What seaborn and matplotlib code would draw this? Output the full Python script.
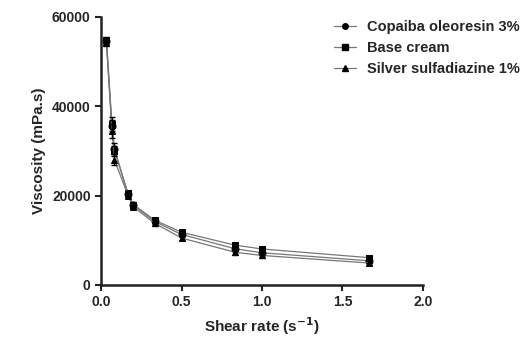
import matplotlib
matplotlib.use("Agg")
import matplotlib.pyplot as plt
import seaborn as sns
import pandas as pd
import numpy as np
from matplotlib.lines import Line2D

shear_rate = [0.033, 0.067, 0.083, 0.167, 0.2, 0.333, 0.5, 0.833, 1.0, 1.667]
copaiba = [54500, 35500, 30500, 20300, 17900, 14200, 11300, 8100, 7200, 5400]
base_cream = [54800, 36000, 30000, 20500, 18000, 14500, 11800, 8900, 8050, 6100]
silver = [54200, 34500, 28000, 20000, 17500, 13800, 10500, 7300, 6600, 4900]
copaiba_sd = [800, 1500, 1200, 600, 500, 500, 500, 500, 500, 400]
base_sd = [800, 1500, 1200, 600, 500, 500, 500, 500, 500, 400]
silver_sd = [800, 1500, 1200, 600, 500, 500, 500, 500, 500, 400]
series_names = ["Copaiba oleoresin 3%", "Base cream", "Silver sulfadiazine 1%"]
markers = ["o", "s", "^"]

sns.set_style("ticks")
plt.rcParams['font.family'] = ['Liberation Sans', 'DejaVu Sans']
plt.rcParams['font.weight'] = 'bold'

df = pd.DataFrame({
    "Shear rate": shear_rate * 3,
    "Viscosity": copaiba + base_cream + silver,
    "Series": sum([[n] * len(shear_rate) for n in series_names], []),
})

fig = plt.figure(figsize=(5.24, 3.38), dpi=100)
ax = fig.add_axes([0.193, 0.157, 0.614, 0.793])

sns.lineplot(data=df, x="Shear rate", y="Viscosity", hue="Series", style="Series",
             markers=dict(zip(series_names, markers)), dashes=False,
             palette=["#777777"] * 3, linewidth=0.9, markersize=5,
             markerfacecolor="black", markeredgecolor="black",
             legend=False, ax=ax)

for vals, sd in zip([copaiba, base_cream, silver], [copaiba_sd, base_sd, silver_sd]):
    ax.errorbar(shear_rate, vals, yerr=sd, fmt="none", ecolor="black",
                elinewidth=1.0, capsize=2, capthick=1.0)

ax.set_xlim(0, 2.0)
ax.set_ylim(0, 60000)
ax.set_xticks([0.0, 0.5, 1.0, 1.5, 2.0])
ax.set_xticklabels(["0.0", "0.5", "1.0", "1.5", "2.0"])
ax.set_yticks([0, 20000, 40000, 60000])
ax.set_yticklabels(["0", "20000", "40000", "60000"])
ax.tick_params(labelsize=10, width=1.5, length=4, color="#222222")
for lab in ax.get_xticklabels() + ax.get_yticklabels():
    lab.set_fontweight("bold")
for s in ["left", "bottom"]:
    ax.spines[s].set_linewidth(1.8)
    ax.spines[s].set_color("#222222")
sns.despine(ax=ax)

ax.set_xlabel("Shear rate (s$^{\\mathbf{-1}}$)", fontsize=11, fontweight="bold")
ax.set_ylabel("Viscosity (mPa.s)", fontsize=11, fontweight="bold")

handles = [Line2D([0], [0], color="#777777", lw=0.9, marker=m, markersize=4,
                  markerfacecolor="black", markeredgecolor="black") for m in markers]
fig.legend(handles, series_names, loc="upper left", bbox_to_anchor=(0.612, 0.98),
           frameon=False, prop={"size": 10.5, "weight": "bold"},
           handlelength=1.5, labelspacing=0.5, handletextpad=0.8)

fig.savefig("out.png", dpi=100)
